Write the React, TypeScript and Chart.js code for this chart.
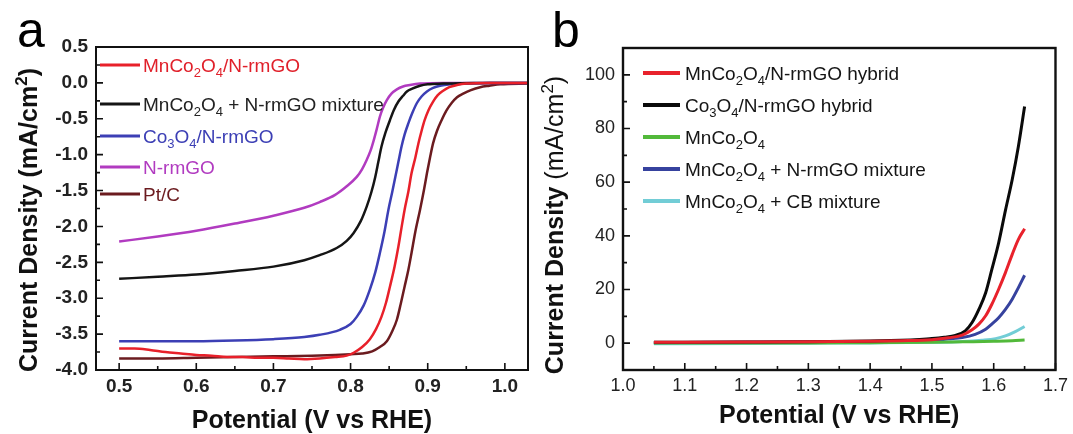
import React, { useEffect, useRef } from 'react';
import { Chart, registerables } from 'chart.js';

Chart.register(...registerables);

const FONT = "'Liberation Sans', Arial, Helvetica, sans-serif";
type Pt = [number, number];

// ---------------- Panel a ----------------
const aXTicks = [0.5, 0.6, 0.7, 0.8, 0.9, 1.0];
const aXTickLabels = ['0.5', '0.6', '0.7', '0.8', '0.9', '1.0'];
const aXMinorTicks = [0.55, 0.65, 0.75, 0.85, 0.95];
const aYTicks = [0.5, 0, -0.5, -1, -1.5, -2, -2.5, -3, -3.5, -4];
const aYTickLabels = ['0.5', '0.0', '-0.5', '-1.0', '-1.5', '-2.0', '-2.5', '-3.0', '-3.5', '-4.0'];
const aYMinorTicks = [0.25, -0.25, -0.75, -1.25, -1.75, -2.25, -2.75, -3.25, -3.75];

const aLabels = ['MnCo₂O₄/N-rmGO', 'MnCo₂O₄ + N-rmGO mixture', 'Co₃O₄/N-rmGO', 'N-rmGO', 'Pt/C'];
const aColors = ['#e8202a', '#151515', '#3c3fb5', '#b13bc0', '#6b1b1f'];

const aMnCo2O4NrmGO: Pt[] = [
  [0.50, -3.70], [0.52, -3.70], [0.54, -3.72], [0.56, -3.75], [0.58, -3.77], [0.60, -3.79], [0.62, -3.80],
  [0.64, -3.82], [0.66, -3.82], [0.68, -3.83], [0.70, -3.83], [0.72, -3.84], [0.74, -3.85], [0.76, -3.84],
  [0.78, -3.82], [0.795, -3.80], [0.804, -3.76], [0.815, -3.68], [0.825, -3.57], [0.833, -3.43], [0.840, -3.26],
  [0.846, -3.06], [0.851, -2.84], [0.857, -2.56], [0.862, -2.28], [0.866, -2.02], [0.870, -1.77], [0.875, -1.51],
  [0.879, -1.26], [0.884, -1.04], [0.888, -0.84], [0.892, -0.67], [0.896, -0.52], [0.901, -0.38], [0.907, -0.26],
  [0.913, -0.17], [0.920, -0.11], [0.928, -0.06], [0.938, -0.03], [0.950, -0.01], [0.98, 0], [1.03, 0],
];
const aMnCo2O4Mixture: Pt[] = [
  [0.50, -2.73], [0.55, -2.70], [0.60, -2.67], [0.65, -2.62], [0.70, -2.56], [0.74, -2.47], [0.76, -2.40],
  [0.782, -2.30], [0.795, -2.20], [0.804, -2.09], [0.813, -1.93], [0.821, -1.72], [0.827, -1.52], [0.832, -1.31],
  [0.836, -1.10], [0.840, -0.89], [0.845, -0.70], [0.851, -0.52], [0.856, -0.38], [0.862, -0.26], [0.868, -0.18],
  [0.873, -0.12], [0.880, -0.08], [0.890, -0.04], [0.900, -0.02], [0.920, -0.01], [0.96, 0], [1.03, 0],
];
const aCo3O4NrmGO: Pt[] = [
  [0.50, -3.60], [0.55, -3.60], [0.60, -3.60], [0.65, -3.59], [0.70, -3.57], [0.74, -3.54], [0.76, -3.51],
  [0.786, -3.44], [0.800, -3.36], [0.808, -3.26], [0.817, -3.10], [0.825, -2.88], [0.832, -2.64], [0.838, -2.37],
  [0.844, -2.07], [0.849, -1.77], [0.854, -1.52], [0.858, -1.31], [0.862, -1.10], [0.866, -0.89], [0.870, -0.72],
  [0.875, -0.56], [0.880, -0.42], [0.886, -0.28], [0.892, -0.19], [0.899, -0.12], [0.907, -0.07], [0.916, -0.04],
  [0.930, -0.02], [0.950, -0.01], [0.98, 0], [1.03, 0],
];
const aNrmGO: Pt[] = [
  [0.50, -2.21], [0.55, -2.14], [0.60, -2.06], [0.65, -1.96], [0.70, -1.85], [0.74, -1.74], [0.76, -1.66],
  [0.78, -1.56], [0.795, -1.44], [0.808, -1.31], [0.815, -1.20], [0.821, -1.07], [0.826, -0.94], [0.830, -0.80],
  [0.834, -0.64], [0.838, -0.47], [0.842, -0.35], [0.847, -0.24], [0.853, -0.15], [0.860, -0.09], [0.868, -0.05],
  [0.877, -0.03], [0.890, -0.01], [0.92, 0], [1.03, 0],
];
const aPtC: Pt[] = [
  [0.50, -3.84], [0.55, -3.84], [0.60, -3.83], [0.65, -3.82], [0.70, -3.81], [0.75, -3.80], [0.78, -3.79],
  [0.80, -3.78], [0.815, -3.77], [0.828, -3.74], [0.838, -3.68], [0.847, -3.60], [0.854, -3.46], [0.860, -3.30],
  [0.865, -3.08], [0.870, -2.84], [0.875, -2.60], [0.879, -2.37], [0.884, -2.07], [0.890, -1.77], [0.895, -1.50],
  [0.899, -1.26], [0.903, -1.04], [0.907, -0.84], [0.912, -0.67], [0.918, -0.52], [0.924, -0.39], [0.931, -0.28],
  [0.938, -0.20], [0.946, -0.15], [0.956, -0.10], [0.968, -0.06], [0.980, -0.04], [0.994, -0.02], [1.03, -0.01],
];

// ---------------- Panel b ----------------
const bXTicks = [1.0, 1.1, 1.2, 1.3, 1.4, 1.5, 1.6, 1.7];
const bXTickLabels = ['1.0', '1.1', '1.2', '1.3', '1.4', '1.5', '1.6', '1.7'];
const bXMinorTicks = [1.05, 1.15, 1.25, 1.35, 1.45, 1.55, 1.65];
const bYTicks = [0, 20, 40, 60, 80, 100];
const bYTickLabels = ['0', '20', '40', '60', '80', '100'];
const bYMinorTicks = [10, 30, 50, 70, 90];

const bLabels = ['MnCo₂O₄/N-rmGO hybrid', 'Co₃O₄/N-rmGO hybrid', 'MnCo₂O₄', 'MnCo₂O₄ + N-rmGO mixture', 'MnCo₂O₄ + CB mixture'];
const bColors = ['#e8222c', '#0a0a0a', '#52b93a', '#36429e', '#72cdd6'];

const bMnCo2O4Hybrid: Pt[] = [
  [1.05, 0.3], [1.20, 0.4], [1.30, 0.5], [1.40, 0.7], [1.45, 0.9], [1.50, 1.3], [1.527, 2.0], [1.549, 3.0],
  [1.565, 5.0], [1.576, 7.1], [1.587, 10.2], [1.597, 14.5], [1.608, 20.1], [1.619, 26.3], [1.630, 33.1],
  [1.640, 38.7], [1.650, 42.6],
];
const bCo3O4Hybrid: Pt[] = [
  [1.05, 0.3], [1.20, 0.4], [1.30, 0.5], [1.40, 0.8], [1.45, 1.1], [1.48, 1.4], [1.50, 1.7], [1.52, 2.2],
  [1.538, 2.9], [1.554, 4.6], [1.565, 7.7], [1.576, 12.6], [1.587, 18.8], [1.597, 27.5], [1.608, 37.4],
  [1.619, 49.5], [1.630, 61.0], [1.640, 73.4], [1.650, 88.2],
];
const bMnCo2O4: Pt[] = [
  [1.05, 0.1], [1.20, 0.1], [1.30, 0.1], [1.40, 0.2], [1.50, 0.3], [1.55, 0.5], [1.60, 0.7], [1.63, 0.9], [1.65, 1.2],
];
const bMnCo2O4NrmGOMix: Pt[] = [
  [1.05, 0.2], [1.20, 0.3], [1.30, 0.4], [1.40, 0.6], [1.50, 1.0], [1.527, 1.6], [1.549, 2.1], [1.570, 3.3],
  [1.587, 5.2], [1.597, 7.1], [1.608, 9.5], [1.619, 12.6], [1.630, 16.4], [1.640, 20.7], [1.650, 25.3],
];
const bMnCo2O4CBMix: Pt[] = [
  [1.05, -0.2], [1.20, -0.1], [1.30, 0.0], [1.40, 0.1], [1.50, 0.3], [1.55, 0.6], [1.581, 1.1], [1.603, 1.7],
  [1.619, 2.7], [1.635, 4.3], [1.650, 6.2],
];

// ---------------- rich text helpers ----------------
type Seg = { t: string; k: 0 | 1 | 2; b: boolean };
const SUBS = '\u2080\u2081\u2082\u2083\u2084\u2085\u2086\u2087\u2088\u2089';
const SUPS = '\u2070\u00B9\u00B2\u00B3\u2074\u2075\u2076\u2077\u2078\u2079';

function parseRich(text: string, boldPrefix: number): Seg[] {
  const segs: Seg[] = [];
  Array.from(text).forEach((ch, i) => {
    let k: 0 | 1 | 2 = 0;
    let c = ch;
    const si = SUBS.indexOf(ch);
    if (si >= 0) { k = 1; c = String(si); }
    const pi = SUPS.indexOf(ch);
    if (pi >= 0) { k = 2; c = String(pi); }
    const b = i < boldPrefix;
    const last = segs[segs.length - 1];
    if (last && last.k === k && last.b === b) last.t += c;
    else segs.push({ t: c, k, b });
  });
  return segs;
}
function segFont(s: Seg, size: number) {
  const sz = s.k ? Math.round(size * 0.68) : size;
  return `${s.b ? 'bold ' : ''}${sz}px ${FONT}`;
}
function measureRich(ctx: CanvasRenderingContext2D, segs: Seg[], size: number) {
  let w = 0;
  for (const s of segs) { ctx.font = segFont(s, size); w += ctx.measureText(s.t).width; }
  return w;
}
function drawRich(ctx: CanvasRenderingContext2D, segs: Seg[], x: number, y: number, size: number, color: string) {
  ctx.fillStyle = color;
  ctx.textBaseline = 'alphabetic';
  ctx.textAlign = 'left';
  let cx = x;
  for (const s of segs) {
    ctx.font = segFont(s, size);
    const dy = s.k === 1 ? size * 0.28 : s.k === 2 ? -size * 0.42 : 0;
    ctx.fillText(s.t, cx, y + dy);
    cx += ctx.measureText(s.t).width;
  }
}

// ---------------- panel spec ----------------
interface PanelSpec {
  series: Pt[][]; labels: string[]; colors: string[]; textColors: string[]; lineWidth: number;
  xMin: number; xMax: number; yMin: number; yMax: number;
  xTicks: number[]; xTickLabels: string[]; xMinor: number[];
  yTicks: number[]; yTickLabels: string[]; yMinor: number[];
  tickBold: boolean; tickSize: number;
  padding: { left: number; top: number; right: number; bottom: number };
  yAxisWidth: number; xAxisHeight: number; xTitlePad: number;
  yTitle: string; yTitleBold: number; yTitleX: number; yTitleCY: number;
  legendRows: number[]; legendX0: number; legendX1: number; legendTX: number; legendLW: number;
  letter: string; letterX: number;
  frameWidth: number;
}

function decorPlugin(p: PanelSpec) {
  return {
    id: 'decor',
    afterDraw(chart: any) {
      const ctx: CanvasRenderingContext2D = chart.ctx;
      const ca = chart.chartArea;
      const xs = chart.scales.x;
      const ys = chart.scales.y;
      ctx.save();
      ctx.strokeStyle = '#111';
      ctx.lineWidth = 1.6;
      ctx.beginPath();
      p.xTicks.forEach((v) => { const px = xs.getPixelForValue(v); ctx.moveTo(px, ca.bottom); ctx.lineTo(px, ca.bottom - 7); });
      p.xMinor.forEach((v) => { const px = xs.getPixelForValue(v); ctx.moveTo(px, ca.bottom); ctx.lineTo(px, ca.bottom - 4); });
      p.yTicks.forEach((v) => { const py = ys.getPixelForValue(v); ctx.moveTo(ca.left, py); ctx.lineTo(ca.left + 7, py); });
      p.yMinor.forEach((v) => { const py = ys.getPixelForValue(v); ctx.moveTo(ca.left, py); ctx.lineTo(ca.left + 4, py); });
      ctx.stroke();
      ctx.lineWidth = p.frameWidth;
      ctx.strokeStyle = '#111';
      ctx.strokeRect(ca.left, ca.top, ca.right - ca.left, ca.bottom - ca.top);

      // legend
      const lsize = 19;
      p.labels.forEach((lab, i) => {
        const y = p.legendRows[i];
        ctx.strokeStyle = p.colors[i];
        ctx.lineWidth = p.legendLW;
        ctx.beginPath();
        ctx.moveTo(p.legendX0, y);
        ctx.lineTo(p.legendX1, y);
        ctx.stroke();
        drawRich(ctx, parseRich(lab, 0), p.legendTX, y + lsize * 0.36, lsize, p.textColors[i]);
      });

      // y title
      const tsize = 25;
      const segs = parseRich(p.yTitle, p.yTitleBold);
      const w = measureRich(ctx, segs, tsize);
      ctx.translate(p.yTitleX, p.yTitleCY);
      ctx.rotate(-Math.PI / 2);
      drawRich(ctx, segs, -w / 2, 0, tsize, '#111');
      ctx.setTransform(1, 0, 0, 1, 0, 0);

      // panel letter
      ctx.font = `50px ${FONT}`;
      ctx.fillStyle = '#000';
      ctx.textBaseline = 'alphabetic';
      ctx.textAlign = 'left';
      ctx.fillText(p.letter, p.letterX, 47);
      ctx.restore();
    },
  };
}

function buildConfig(p: PanelSpec): any {
  const tickFont = { family: FONT, size: p.tickSize, weight: p.tickBold ? 'bold' : 'normal' };
  return {
    type: 'line',
    data: {
      datasets: p.series.map((s, i) => ({
        label: p.labels[i],
        data: s.map(([x, y]) => ({ x, y })),
        borderColor: p.colors[i],
        backgroundColor: p.colors[i],
        borderWidth: p.lineWidth,
        pointRadius: 0,
        fill: false,
        cubicInterpolationMode: 'monotone',
      })),
    },
    options: {
      animation: false,
      responsive: false,
      maintainAspectRatio: false,
      layout: { padding: p.padding },
      plugins: { legend: { display: false }, tooltip: { enabled: false } },
      scales: {
        x: {
          type: 'linear', min: p.xMin, max: p.xMax, bounds: 'data',
          afterBuildTicks: (sc: any) => { sc.ticks = p.xTicks.map((v) => ({ value: v })); },
          afterFit: (sc: any) => { sc.height = p.xAxisHeight; },
          grid: { display: false, drawTicks: false },
          border: { display: false },
          ticks: { autoSkip: false, maxRotation: 0, padding: 5, color: '#222', font: tickFont, callback: (_v: any, i: number) => p.xTickLabels[i] },
          title: {
            display: true, text: 'Potential (V vs RHE)', color: '#111',
            font: { family: FONT, size: 25, weight: 'bold', lineHeight: 1 },
            padding: { top: 0, bottom: p.xTitlePad },
          },
        },
        y: {
          type: 'linear', min: p.yMin, max: p.yMax, bounds: 'data',
          afterBuildTicks: (sc: any) => { sc.ticks = p.yTicks.map((v) => ({ value: v })); },
          afterFit: (sc: any) => { sc.width = p.yAxisWidth; },
          grid: { display: false, drawTicks: false },
          border: { display: false },
          ticks: { autoSkip: false, padding: 8, color: '#222', font: tickFont, callback: (_v: any, i: number) => p.yTickLabels[i] },
        },
      },
    },
    plugins: [decorPlugin(p)],
  };
}

const panelA: PanelSpec = {
  series: [aMnCo2O4NrmGO, aMnCo2O4Mixture, aCo3O4NrmGO, aNrmGO, aPtC],
  labels: aLabels, colors: aColors, textColors: ['#e0202a', '#222222', '#3c3fb5', '#b13bc0', '#6b1b1f'], lineWidth: 2.5,
  xMin: 0.47, xMax: 1.03, yMin: -4, yMax: 0.5,
  xTicks: aXTicks, xTickLabels: aXTickLabels, xMinor: aXMinorTicks,
  yTicks: aYTicks, yTickLabels: aYTickLabels, yMinor: aYMinorTicks,
  tickBold: true, tickSize: 19,
  padding: { left: 0, top: 47, right: 12, bottom: 0 },
  yAxisWidth: 96, xAxisHeight: 64, xTitlePad: 0,
  yTitle: 'Current Density (mA/cm²)', yTitleBold: 100, yTitleX: 37, yTitleCY: 220,
  legendRows: [65, 104, 136, 167, 194], legendX0: 100, legendX1: 140, legendTX: 143, legendLW: 3,
  letter: 'a', letterX: 17, frameWidth: 2,
};

const panelB: PanelSpec = {
  series: [bMnCo2O4Hybrid, bCo3O4Hybrid, bMnCo2O4, bMnCo2O4NrmGOMix, bMnCo2O4CBMix],
  labels: bLabels, colors: bColors, textColors: ['#151515', '#151515', '#151515', '#151515', '#151515'], lineWidth: 3,
  xMin: 1.0, xMax: 1.7, yMin: -10, yMax: 110,
  xTicks: bXTicks, xTickLabels: bXTickLabels, xMinor: bXMinorTicks,
  yTicks: bYTicks, yTickLabels: bYTickLabels, yMinor: bYMinorTicks,
  tickBold: false, tickSize: 18,
  padding: { left: 0, top: 48, right: 16, bottom: 0 },
  yAxisWidth: 83, xAxisHeight: 64, xTitlePad: 5,
  yTitle: 'Current Density (mA/cm²)', yTitleBold: 16, yTitleX: 23, yTitleCY: 225,
  legendRows: [73, 105, 137, 169, 201], legendX0: 103, legendX1: 140, legendTX: 145, legendLW: 4,
  letter: 'b', letterX: 12, frameWidth: 2.4,
};

function Panel({ spec, left, width }: { spec: PanelSpec; left: number; width: number }) {
  const ref = useRef<HTMLCanvasElement>(null);
  useEffect(() => {
    const chart = new Chart(ref.current as HTMLCanvasElement, buildConfig(spec));
    return () => chart.destroy();
  }, [spec]);
  return (
    <canvas
      ref={ref}
      width={width}
      height={434}
      style={{ position: 'absolute', left, top: 0, width, height: 434, display: 'block' }}
    />
  );
}

export default function App() {
  return (
    <div style={{ position: 'fixed', left: 0, top: 0, width: 1073, height: 434, background: '#fff', overflow: 'hidden' }}>
      <Panel spec={panelA} left={0} width={540} />
      <Panel spec={panelB} left={540} width={533} />
    </div>
  );
}
